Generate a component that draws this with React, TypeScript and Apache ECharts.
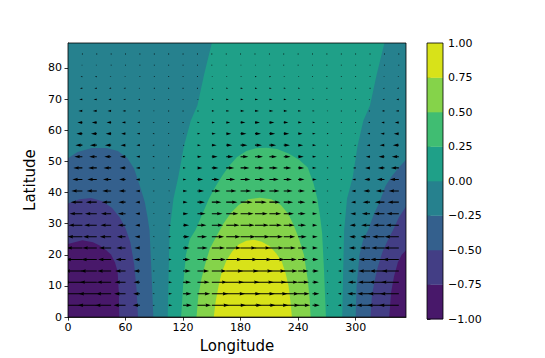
import React, { useEffect, useRef } from 'react';
import * as echarts from 'echarts';

const LON_MAX = 352.5;
const LAT_MAX = 88;
const X_TICKS = [0, 60, 120, 180, 240, 300];
const Y_TICKS = [0, 10, 20, 30, 40, 50, 60, 70, 80];
const LEVELS = [-1, -0.75, -0.5, -0.25, 0, 0.25, 0.5, 0.75, 1];
const BAND_COLORS = ['#48186a', '#433e85', '#34608d', '#26818e', '#1fa088', '#40bd72', '#85d34a', '#d8e219'];

// contour boundaries, as [longitude, latitude]
const ZERO_LEFT = [[104, 0], [105, 15], [106, 28], [110, 38], [115, 45], [121, 55], [128, 63], [135, 68], [142, 78], [150, 88]];
const ZERO_RIGHT = [[286, 0], [287, 15], [288, 28], [291, 38], [297, 45], [302, 55], [308, 63], [315, 68], [322, 78], [330, 88]];
const NEG25_LEFT = [[0, 51], [10, 53], [25, 54.3], [40, 54.3], [52, 53.3], [62, 51], [69, 47.6], [75, 42], [80, 37], [83, 32], [85, 28], [87, 15], [89, 0]];
const NEG25_RIGHT = [[300, 0], [301, 10], [304, 20], [308, 25], [313, 28], [319, 33], [325, 37], [331, 42], [337, 45], [345, 48], [352.5, 50.5]];
const NEG50_LEFT = [[0, 36.5], [12, 37.8], [24, 38.2], [36, 37.2], [46, 35], [54, 32], [60, 28.5], [65, 24], [69, 17], [71.5, 9], [73, 0]];
const NEG50_RIGHT = [[315.5, 0], [317, 7], [320, 12], [323, 16], [328, 21], [334, 25], [339, 28], [345, 32], [352.5, 35.5]];
const NEG75_LEFT = [[0, 23.5], [15, 24.7], [26, 24], [33, 23], [40, 21.5], [45, 20], [49, 17.5], [51.7, 14.7], [53, 8], [53.5, 0]];
const NEG75_RIGHT = [[335, 0], [337, 8], [340, 13], [344, 17.5], [348, 20], [352.5, 21.5]];
const POS25 = [[118, 0], [120, 10], [123, 20], [127, 25], [133, 28], [140, 33], [147, 38], [154, 42], [161, 45.5], [168, 48.5], [176, 51.3], [186, 53.3], [196, 54.2], [207, 54.4], [218, 54], [230, 52.5], [241, 50.5], [250, 48], [256, 43], [260, 38], [263, 32], [265, 27], [267, 15], [269, 0]];
const POS50 = [[134, 0], [136, 7], [139, 12], [143, 17], [148, 22], [155, 26], [162, 30], [170, 33.5], [178, 36], [188, 37.8], [200, 38.3], [212, 37.8], [222, 36], [230, 33], [236, 29], [241, 25], [246, 20], [250, 12], [252, 6], [253, 0]];
const POS75 = [[152, 0], [154, 5], [157, 10], [160, 14], [165, 18], [171, 21], [178, 23.3], [186, 24.5], [194, 24.8], [202, 24.2], [210, 22.8], [217, 20.5], [223, 17.8], [227, 14], [230, 10], [232, 5], [233.5, 0]];

// quiver grid and eastward components
const ARROW_LONS = [15, 30, 45, 60, 75, 90, 105, 120, 135, 150, 165, 180, 195, 210, 225, 240, 255, 270, 285, 300, 315, 330, 345];
const ARROW_LATS = [3.8, 7.5, 11.2, 14.8, 18.5, 22.2, 25.8, 29.5, 33.2, 36.9, 40.5, 44.2, 47.9, 51.5, 55.2, 58.9, 62.5, 66.2, 69.9, 73.5, 77.2, 80.9, 84.5];
const U_ROWS = [
  [-1.03, -0.95, -0.80, -0.60, -0.36, -0.09, 0.18, 0.44, 0.68, 0.86, 0.99, 1.05, 1.03, 0.95, 0.80, 0.60, 0.36, 0.09, -0.18, -0.44, -0.68, -0.86, -0.99],
  [-0.99, -0.91, -0.77, -0.57, -0.34, -0.09, 0.17, 0.42, 0.64, 0.82, 0.94, 1.00, 0.99, 0.91, 0.77, 0.57, 0.34, 0.09, -0.17, -0.42, -0.64, -0.82, -0.94],
  [-0.94, -0.86, -0.73, -0.55, -0.32, -0.08, 0.17, 0.40, 0.61, 0.78, 0.89, 0.95, 0.94, 0.86, 0.73, 0.55, 0.32, 0.08, -0.17, -0.40, -0.61, -0.78, -0.89],
  [-0.89, -0.82, -0.69, -0.52, -0.31, -0.08, 0.16, 0.38, 0.58, 0.74, 0.85, 0.90, 0.89, 0.82, 0.69, 0.52, 0.31, 0.08, -0.16, -0.38, -0.58, -0.74, -0.85],
  [-0.84, -0.77, -0.65, -0.49, -0.29, -0.07, 0.15, 0.36, 0.55, 0.70, 0.80, 0.85, 0.84, 0.77, 0.65, 0.49, 0.29, 0.07, -0.15, -0.36, -0.55, -0.70, -0.80],
  [-0.79, -0.72, -0.61, -0.46, -0.27, -0.07, 0.14, 0.34, 0.51, 0.66, 0.75, 0.80, 0.79, 0.72, 0.61, 0.46, 0.27, 0.07, -0.14, -0.34, -0.51, -0.66, -0.75],
  [-0.74, -0.68, -0.57, -0.43, -0.26, -0.07, 0.13, 0.32, 0.48, 0.61, 0.71, 0.75, 0.74, 0.68, 0.57, 0.43, 0.26, 0.07, -0.13, -0.32, -0.48, -0.61, -0.71],
  [-0.69, -0.63, -0.54, -0.40, -0.24, -0.06, 0.12, 0.30, 0.45, 0.57, 0.66, 0.70, 0.69, 0.63, 0.54, 0.40, 0.24, 0.06, -0.12, -0.30, -0.45, -0.57, -0.66],
  [-0.64, -0.59, -0.51, -0.38, -0.23, -0.07, 0.10, 0.26, 0.41, 0.53, 0.61, 0.65, 0.64, 0.59, 0.51, 0.38, 0.23, 0.07, -0.10, -0.26, -0.41, -0.53, -0.61],
  [-0.59, -0.55, -0.47, -0.36, -0.23, -0.07, 0.08, 0.23, 0.37, 0.48, 0.56, 0.60, 0.59, 0.55, 0.47, 0.36, 0.23, 0.07, -0.08, -0.23, -0.37, -0.48, -0.56],
  [-0.55, -0.51, -0.44, -0.34, -0.22, -0.08, 0.07, 0.21, 0.33, 0.43, 0.51, 0.54, 0.55, 0.51, 0.44, 0.34, 0.22, 0.08, -0.07, -0.21, -0.33, -0.43, -0.51],
  [-0.50, -0.47, -0.41, -0.32, -0.21, -0.09, 0.04, 0.17, 0.29, 0.38, 0.45, 0.49, 0.50, 0.47, 0.41, 0.32, 0.21, 0.09, -0.04, -0.17, -0.29, -0.38, -0.45],
  [-0.45, -0.43, -0.38, -0.30, -0.20, -0.09, 0.02, 0.14, 0.25, 0.33, 0.40, 0.44, 0.45, 0.43, 0.38, 0.30, 0.20, 0.09, -0.02, -0.14, -0.25, -0.33, -0.40],
  [-0.40, -0.38, -0.34, -0.28, -0.19, -0.10, 0.01, 0.11, 0.21, 0.29, 0.35, 0.39, 0.40, 0.38, 0.34, 0.28, 0.19, 0.10, -0.01, -0.11, -0.21, -0.29, -0.35],
  [-0.35, -0.34, -0.31, -0.25, -0.18, -0.10, -0.01, 0.08, 0.17, 0.24, 0.30, 0.34, 0.35, 0.34, 0.31, 0.25, 0.18, 0.10, 0.01, -0.08, -0.17, -0.24, -0.30],
  [-0.30, -0.29, -0.27, -0.22, -0.16, -0.09, -0.02, 0.06, 0.14, 0.20, 0.25, 0.29, 0.30, 0.29, 0.27, 0.22, 0.16, 0.09, 0.02, -0.06, -0.14, -0.20, -0.25],
  [-0.25, -0.25, -0.23, -0.19, -0.14, -0.09, -0.02, 0.04, 0.11, 0.16, 0.20, 0.24, 0.25, 0.25, 0.23, 0.19, 0.14, 0.09, 0.02, -0.04, -0.11, -0.16, -0.20],
  [-0.20, -0.20, -0.18, -0.15, -0.11, -0.07, -0.02, 0.03, 0.08, 0.13, 0.16, 0.19, 0.20, 0.20, 0.18, 0.15, 0.11, 0.07, 0.02, -0.03, -0.08, -0.13, -0.16],
  [-0.16, -0.16, -0.14, -0.12, -0.09, -0.05, -0.01, 0.03, 0.07, 0.10, 0.13, 0.15, 0.16, 0.16, 0.14, 0.12, 0.09, 0.05, 0.01, -0.03, -0.07, -0.10, -0.13],
  [-0.12, -0.12, -0.11, -0.10, -0.07, -0.04, -0.01, 0.02, 0.05, 0.08, 0.10, 0.12, 0.12, 0.12, 0.11, 0.10, 0.07, 0.04, 0.01, -0.02, -0.05, -0.08, -0.10],
  [-0.09, -0.09, -0.08, -0.07, -0.05, -0.03, -0.01, 0.02, 0.04, 0.06, 0.07, 0.08, 0.09, 0.09, 0.08, 0.07, 0.05, 0.03, 0.01, -0.02, -0.04, -0.06, -0.07],
  [-0.06, -0.06, -0.05, -0.05, -0.03, -0.02, -0.01, 0.01, 0.03, 0.04, 0.05, 0.06, 0.06, 0.06, 0.05, 0.05, 0.03, 0.02, 0.01, -0.01, -0.03, -0.04, -0.05],
  [-0.03, -0.03, -0.03, -0.02, -0.02, -0.01, 0.0, 0.01, 0.01, 0.02, 0.02, 0.03, 0.03, 0.03, 0.03, 0.02, 0.02, 0.01, 0.0, -0.01, -0.01, -0.02, -0.02],
];

const QUIVER_DEG_PER_UNIT = 20.9; // quiver scale: degrees of longitude per unit of u
const FONT = 'DejaVu Sans';

// arrow geometry in px, after matplotlib's quiver defaults
const SW = 1.1;
const HEAD_LEN = 5 * SW;
const HEAD_W = 3 * SW;
const HEAD_AXIS = 4.5 * SW;
const MIN_SHAFT = HEAD_LEN;
const MIN_LEN = SW;

function arrowPoints(L: number): number[][] {
  if (L < MIN_LEN) {
    const pts: number[][] = [];
    for (let i = 0; i < 6; i++) {
      const t = (Math.PI / 3) * i;
      pts.push([Math.cos(t) * MIN_LEN * 0.5, Math.sin(t) * MIN_LEN * 0.5]);
    }
    return pts;
  }
  if (L < MIN_SHAFT) {
    const s = L / MIN_SHAFT;
    return [
      [0, 0.5 * SW * s],
      [(MIN_SHAFT - HEAD_AXIS) * s, 0.5 * SW * s],
      [(MIN_SHAFT - HEAD_LEN) * s, 0.5 * HEAD_W * s],
      [MIN_SHAFT * s, 0],
      [(MIN_SHAFT - HEAD_LEN) * s, -0.5 * HEAD_W * s],
      [(MIN_SHAFT - HEAD_AXIS) * s, -0.5 * SW * s],
      [0, -0.5 * SW * s],
    ];
  }
  return [
    [0, 0.5 * SW],
    [L - HEAD_AXIS, 0.5 * SW],
    [L - HEAD_LEN, 0.5 * HEAD_W],
    [L, 0],
    [L - HEAD_LEN, -0.5 * HEAD_W],
    [L - HEAD_AXIS, -0.5 * SW],
    [0, -0.5 * SW],
  ];
}

export default function App() {
  const ref = useRef<HTMLDivElement>(null);

  useEffect(() => {
    if (!ref.current) return;
    const chart = echarts.init(ref.current, undefined, { renderer: 'svg' });

    const regions: { band: number; pts: number[][] }[] = [
      { band: 4, pts: [[0, 0], [LON_MAX, 0], [LON_MAX, LAT_MAX], [0, LAT_MAX]] },
      { band: 3, pts: [[0, 0], ...ZERO_LEFT, [0, LAT_MAX]] },
      { band: 3, pts: [...ZERO_RIGHT, [LON_MAX, LAT_MAX], [LON_MAX, 0]] },
      { band: 2, pts: [...NEG25_LEFT, [0, 0]] },
      { band: 2, pts: [...NEG25_RIGHT, [LON_MAX, 0]] },
      { band: 1, pts: [...NEG50_LEFT, [0, 0]] },
      { band: 1, pts: [...NEG50_RIGHT, [LON_MAX, 0]] },
      { band: 0, pts: [...NEG75_LEFT, [0, 0]] },
      { band: 0, pts: [...NEG75_RIGHT, [LON_MAX, 0]] },
      { band: 5, pts: POS25 },
      { band: 6, pts: POS50 },
      { band: 7, pts: POS75 },
    ];

    const arrowData: number[][] = [];
    ARROW_LATS.forEach((lat, r) => {
      ARROW_LONS.forEach((lon, c) => {
        arrowData.push([lon, lat, U_ROWS[r][c]]);
      });
    });

    const barData = LEVELS.slice(0, -1).map((lo, i) => [0.5, lo, LEVELS[i + 1], i]);

    const tickStyle = { color: '#000', width: 0.8 };
    const labelStyle = { fontFamily: FONT, fontSize: 11, color: '#000' };

    chart.setOption({
      animation: false,
      grid: [
        { left: 68, top: 43, width: 338, height: 276, containLabel: false },
        { left: 427, top: 43, width: 16, height: 276, containLabel: false },
      ],
      xAxis: [
        {
          gridIndex: 0,
          type: 'value',
          min: 0,
          max: LON_MAX,
          interval: 60,
          name: 'Longitude',
          nameLocation: 'middle',
          nameGap: 18,
          nameTextStyle: { fontFamily: FONT, fontSize: 15, color: '#000' },
          axisLine: { show: true, onZero: false, lineStyle: tickStyle },
          axisTick: { show: true, length: 3.5, lineStyle: tickStyle, customValues: X_TICKS },
          axisLabel: {
            ...labelStyle,
            margin: 5,
            customValues: X_TICKS,
            formatter: (v: number) => (X_TICKS.includes(v) ? String(v) : ''),
          },
          splitLine: { show: false },
        },
        { gridIndex: 1, type: 'value', min: 0, max: 1, show: false },
      ],
      yAxis: [
        {
          gridIndex: 0,
          type: 'value',
          min: 0,
          max: LAT_MAX,
          interval: 10,
          name: 'Latitude',
          nameLocation: 'middle',
          nameGap: 24,
          nameRotate: 90,
          nameTextStyle: { fontFamily: FONT, fontSize: 15, color: '#000' },
          axisLine: { show: true, onZero: false, lineStyle: tickStyle },
          axisTick: { show: true, length: 3.5, lineStyle: tickStyle, customValues: Y_TICKS },
          axisLabel: {
            ...labelStyle,
            margin: 6,
            customValues: Y_TICKS,
            formatter: (v: number) => (Y_TICKS.includes(v) ? String(v) : ''),
          },
          splitLine: { show: false },
        },
        {
          gridIndex: 1,
          type: 'value',
          min: -1,
          max: 1,
          interval: 0.25,
          position: 'right',
          axisLine: { show: false },
          axisTick: { show: true, length: 3.5, lineStyle: tickStyle, customValues: LEVELS },
          axisLabel: {
            ...labelStyle,
            margin: 5,
            customValues: LEVELS,
            formatter: (v: number) => v.toFixed(2).replace('-', '\u2212'),
          },
          splitLine: { show: false },
        },
      ],
      series: [
        {
          type: 'custom',
          xAxisIndex: 0,
          yAxisIndex: 0,
          clip: true,
          silent: true,
          data: regions.map((_, i) => [i, 0]),
          renderItem: (params: any, api: any) => {
            const reg = regions[api.value(0)];
            const points = reg.pts.map((p) => api.coord(p));
            return {
              type: 'polygon',
              shape: { points },
              style: { fill: BAND_COLORS[reg.band], stroke: null },
            };
          },
        },
        {
          type: 'custom',
          xAxisIndex: 0,
          yAxisIndex: 0,
          clip: true,
          silent: true,
          data: arrowData,
          renderItem: (params: any, api: any) => {
            const lon = api.value(0);
            const lat = api.value(1);
            const u = api.value(2);
            const tail = api.coord([lon, lat]);
            const tip = api.coord([lon + u * QUIVER_DEG_PER_UNIT, lat]);
            const dx = tip[0] - tail[0];
            const sgn = dx < 0 ? -1 : 1;
            const pts = arrowPoints(Math.abs(dx)).map((p) => [tail[0] + sgn * p[0], tail[1] - p[1]]);
            return {
              type: 'polygon',
              shape: { points: pts },
              style: { fill: '#000', stroke: null },
            };
          },
        },
        {
          type: 'custom',
          xAxisIndex: 0,
          yAxisIndex: 0,
          silent: true,
          data: [[0, 0]],
          z: 10,
          renderItem: (params: any, api: any) => {
            const p0 = api.coord([0, LAT_MAX]);
            const p1 = api.coord([LON_MAX, 0]);
            return {
              type: 'rect',
              shape: { x: p0[0], y: p0[1], width: p1[0] - p0[0], height: p1[1] - p0[1] },
              style: { fill: 'none', stroke: '#000', lineWidth: 0.8 },
            };
          },
        },
        {
          type: 'custom',
          xAxisIndex: 1,
          yAxisIndex: 1,
          silent: true,
          data: barData,
          renderItem: (params: any, api: any) => {
            const p0 = api.coord([0, api.value(2)]);
            const p1 = api.coord([1, api.value(1)]);
            return {
              type: 'rect',
              shape: { x: p0[0], y: p0[1], width: p1[0] - p0[0], height: p1[1] - p0[1] + 0.3 },
              style: { fill: BAND_COLORS[api.value(3)], stroke: null },
            };
          },
        },
        {
          type: 'custom',
          xAxisIndex: 1,
          yAxisIndex: 1,
          silent: true,
          data: [[0, 0]],
          z: 10,
          renderItem: (params: any, api: any) => {
            const p0 = api.coord([0, 1]);
            const p1 = api.coord([1, -1]);
            return {
              type: 'rect',
              shape: { x: p0[0], y: p0[1], width: p1[0] - p0[0], height: p1[1] - p0[1] },
              style: { fill: 'none', stroke: '#000', lineWidth: 0.8 },
            };
          },
        },
      ],
    });

    return () => chart.dispose();
  }, []);

  return (
    <div
      ref={ref}
      style={{ position: 'absolute', left: 0, top: 0, width: 545, height: 358, background: '#fff' }}
    />
  );
}
